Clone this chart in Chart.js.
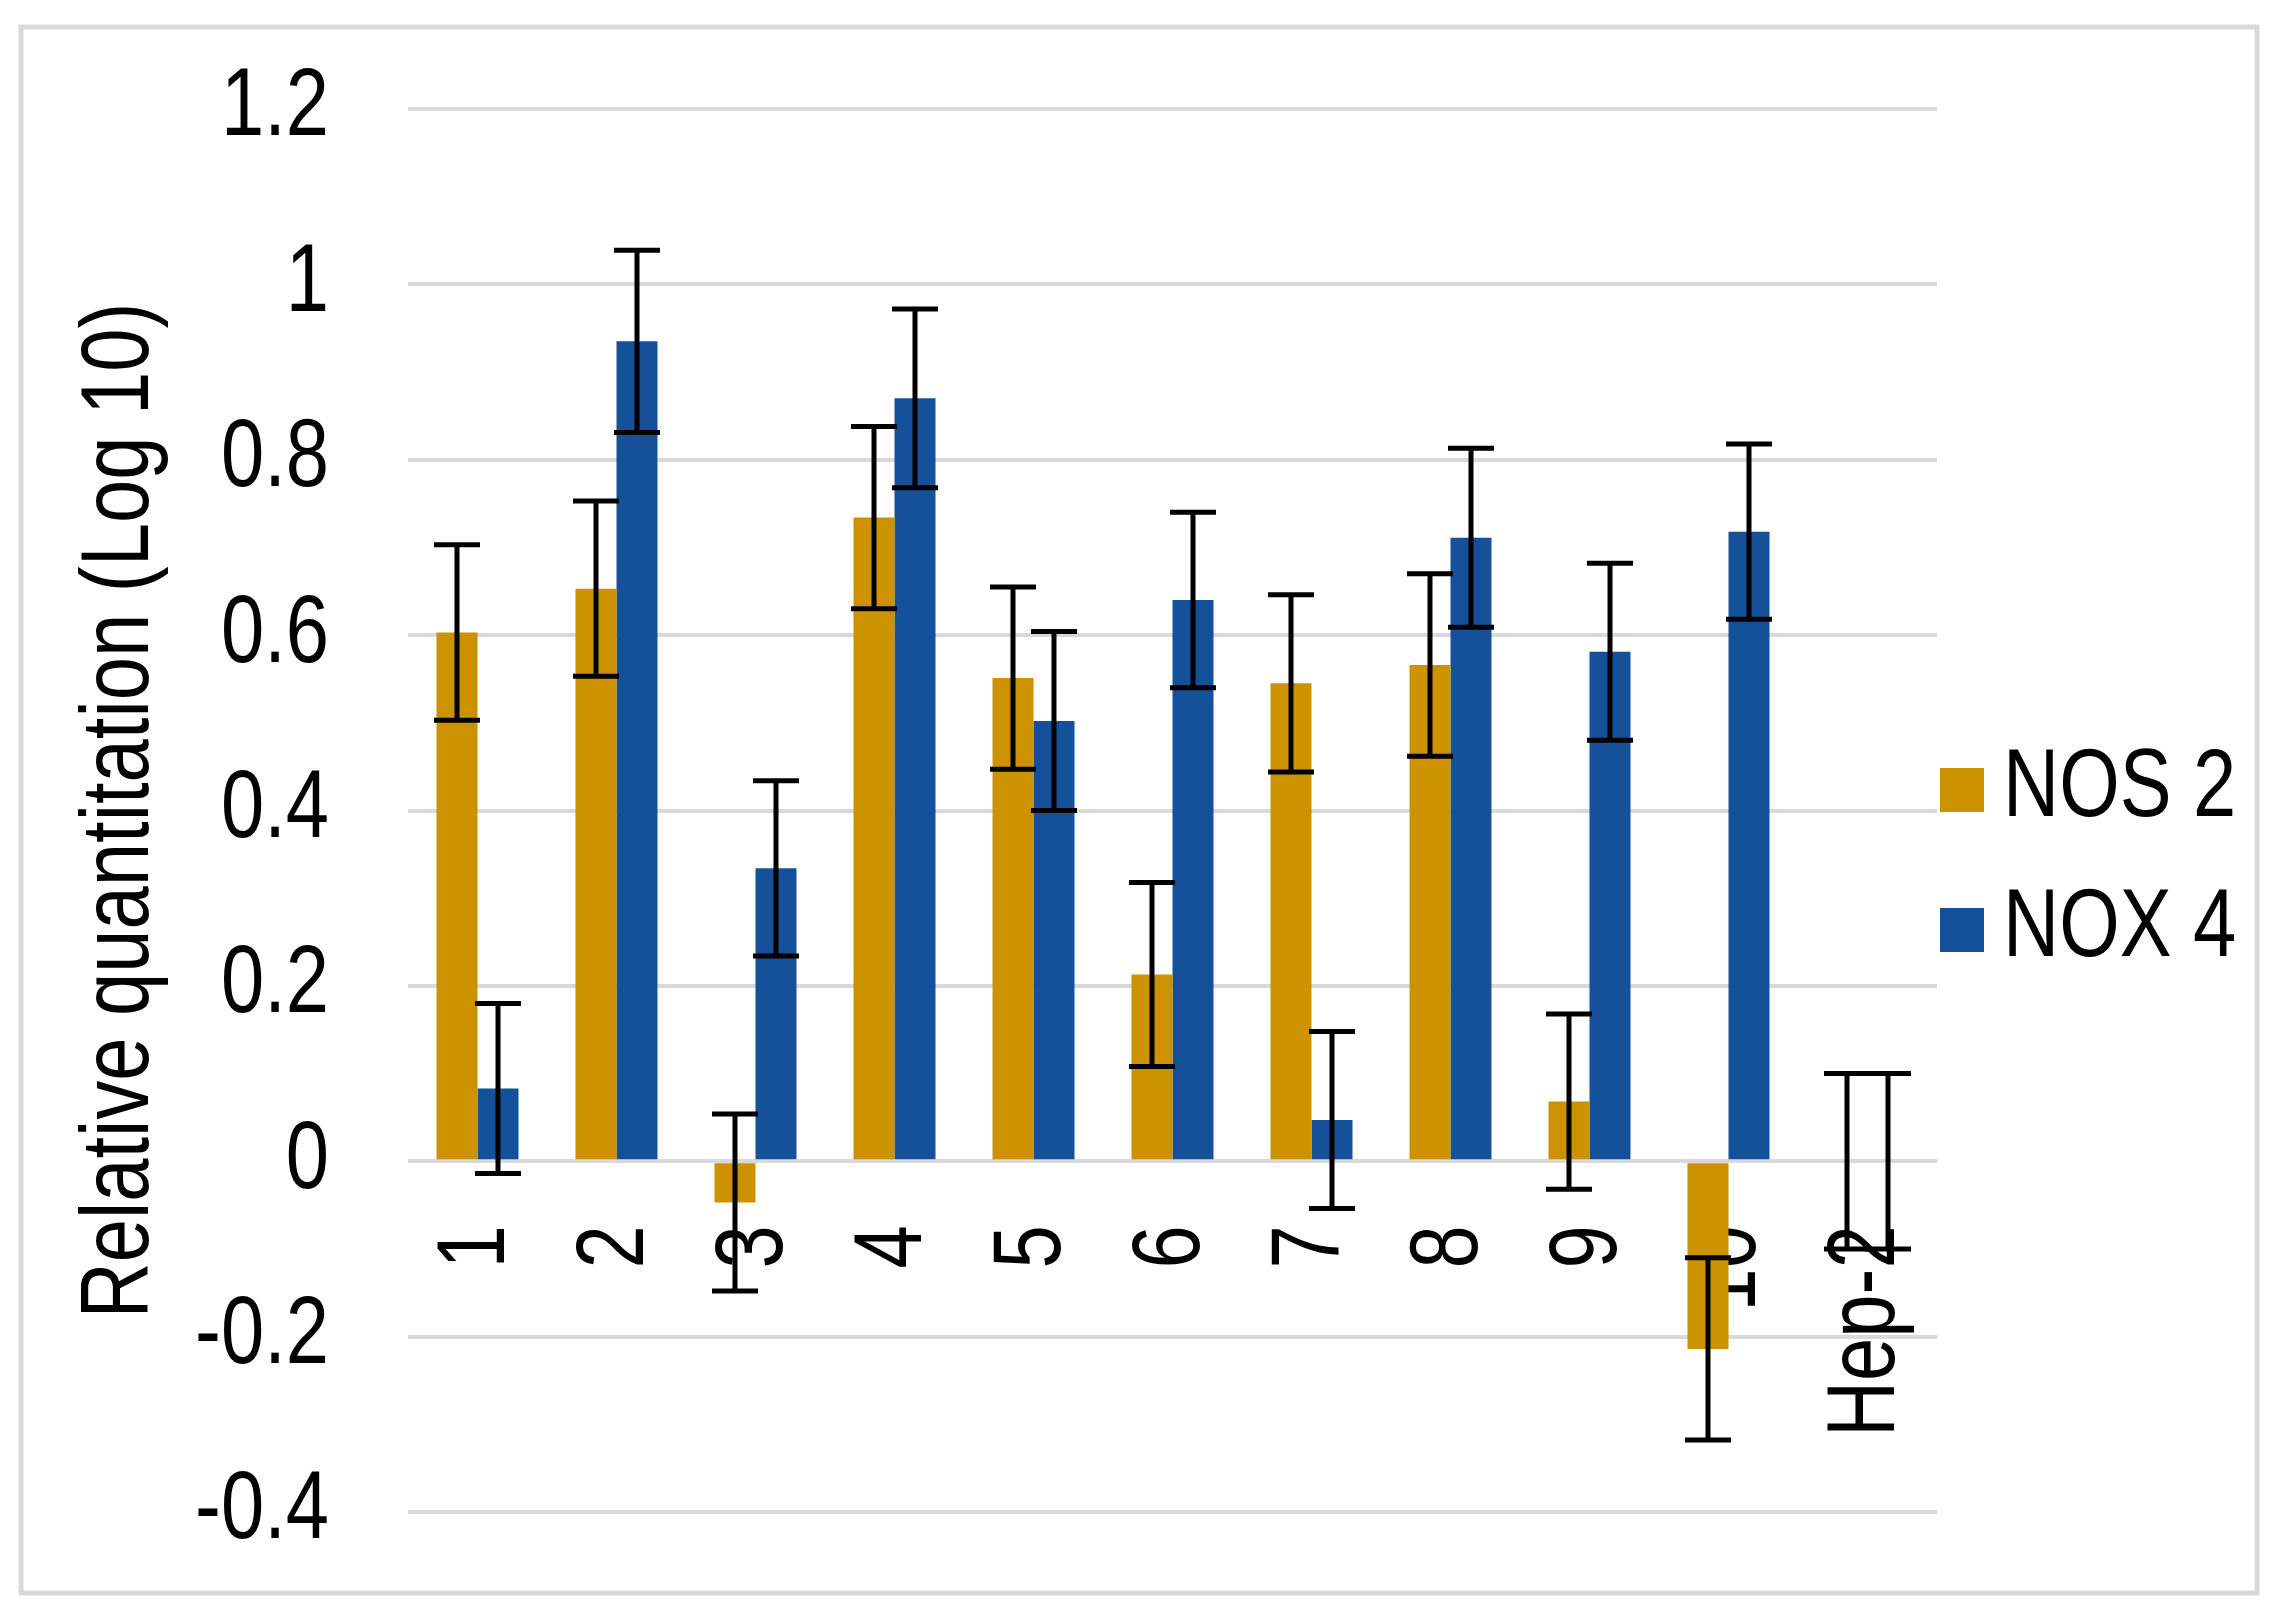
<!DOCTYPE html>
<html><head><meta charset="utf-8">
<script src="https://cdn.jsdelivr.net/npm/chart.js@4.4.1/dist/chart.umd.min.js"></script>
<style>html,body{margin:0;padding:0;background:#fff;}#wrap{width:2284px;height:1615px;position:relative;}</style>
</head><body><div id="wrap"><canvas id="c" width="2284" height="1615"></canvas></div>
<script>
const categories = ['1', '2', '3', '4', '5', '6', '7', '8', '9', '10', 'Hep-2'];
const seriesNames = ['NOS 2', 'NOX 4'];
const nos2Values = [0.603, 0.653, -0.047, 0.734, 0.551, 0.213, 0.545, 0.566, 0.068, -0.214, 0];
const nos2Errors = [0.100, 0.100, 0.101, 0.104, 0.104, 0.105, 0.101, 0.104, 0.100, 0.104, 0.100];
const nox4Values = [0.083, 0.935, 0.334, 0.870, 0.502, 0.640, 0.047, 0.711, 0.581, 0.718, 0];
const nox4Errors = [0.097, 0.104, 0.100, 0.102, 0.102, 0.100, 0.101, 0.102, 0.101, 0.100, 0.100];
const yTitle = 'Relative quantitation (Log 10)';
const yMin = -0.4, yMax = 1.2, yStep = 0.2;

const FONT = "'Liberation Sans Narrow', 'Arial Narrow', 'Liberation Sans', Arial, sans-serif";
const GOLD = '#CC9200';
const BLUE = '#15509A';
const NARROW = 0.81; // horizontal squeeze of glyphs, emulating a narrow sans face

const canvas = document.getElementById('c');
const ctx2d = canvas.getContext('2d');
// Narrow-text emulation: text stays real fillText text, drawn condensed along its own baseline.
const origFill = ctx2d.fillText.bind(ctx2d);
const origMeasure = ctx2d.measureText.bind(ctx2d);
ctx2d.fillText = function (t, x, y, maxW) {
  this.save();
  this.translate(x, y);
  this.scale(NARROW, 1);
  if (maxW === undefined || maxW === null) origFill(t, 0, 0);
  else origFill(t, 0, 0, maxW / NARROW);
  this.restore();
};
ctx2d.measureText = function (t) {
  const m = origMeasure(t);
  return { width: m.width * NARROW, actualBoundingBoxAscent: m.actualBoundingBoxAscent, actualBoundingBoxDescent: m.actualBoundingBoxDescent };
};

const framePlugin = {
  id: 'frame',
  beforeDraw(chart) {
    const ctx = chart.ctx;
    ctx.save();
    ctx.fillStyle = '#fff';
    ctx.fillRect(0, 0, chart.width, chart.height);
    ctx.strokeStyle = '#D9D9D9';
    ctx.lineWidth = 5;
    ctx.strokeRect(21, 27, 2236, 1566);
    ctx.restore();
  }
};

const errorBarPlugin = {
  id: 'errorBars',
  afterDraw(chart) {
    const ctx = chart.ctx;
    const yScale = chart.scales.y;
    ctx.save();
    ctx.strokeStyle = '#000';
    ctx.lineWidth = 5;
    chart.data.datasets.forEach((ds, i) => {
      const meta = chart.getDatasetMeta(i);
      meta.data.forEach((bar, j) => {
        const v = ds.data[j], e = ds.errors[j];
        const x = bar.x;
        const yTop = yScale.getPixelForValue(v + e);
        const yBot = yScale.getPixelForValue(v - e);
        const half = 23;
        ctx.beginPath();
        ctx.moveTo(x, yTop); ctx.lineTo(x, yBot);
        ctx.moveTo(x - half, yTop); ctx.lineTo(x + half, yTop);
        ctx.moveTo(x - half, yBot); ctx.lineTo(x + half, yBot);
        ctx.stroke();
      });
    });
    ctx.restore();
  }
};

const legendPlugin = {
  id: 'sideLegend',
  afterDraw(chart) {
    const ctx = chart.ctx;
    const area = chart.chartArea;
    ctx.save();
    ctx.font = '96px ' + FONT;
    ctx.textBaseline = 'middle';
    ctx.textAlign = 'left';
    chart.data.datasets.forEach((ds, i) => {
      const cy = area.top + 681 + i * 140;
      const bx = area.right + 3;
      ctx.fillStyle = ds.backgroundColor;
      ctx.fillRect(bx, cy - 22, 44, 44);
      ctx.fillStyle = '#000';
      ctx.fillText(ds.label, bx + 63, cy);
    });
    ctx.restore();
  }
};

new Chart(canvas, {
  type: 'bar',
  data: {
    labels: categories,
    datasets: [
      { label: seriesNames[0], data: nos2Values, errors: nos2Errors, backgroundColor: GOLD, borderWidth: 0 },
      { label: seriesNames[1], data: nox4Values, errors: nox4Errors, backgroundColor: BLUE, borderWidth: 0 }
    ]
  },
  options: {
    responsive: false,
    animation: false,
    devicePixelRatio: 1,
    layout: { padding: { left: 30, top: 109, right: 347, bottom: 103 } },
    datasets: { bar: { categoryPercentage: 0.59, barPercentage: 1.0 } },
    plugins: { legend: { display: false }, tooltip: { enabled: false } },
    scales: {
      x: {
        position: { y: 0 },
        z: 1,
        grid: { display: false },
        border: { display: false },
        ticks: {
          autoSkip: false, minRotation: 90, maxRotation: 90, padding: 56,
          color: '#000', font: { family: FONT, size: 96 }
        }
      },
      y: {
        min: yMin, max: yMax,
        grid: { color: '#D9D9D9', lineWidth: 4, drawTicks: true, tickLength: 79, tickColor: 'rgba(0,0,0,0)' },
        border: { display: false },
        ticks: {
          stepSize: yStep, padding: 0, color: '#000', font: { family: FONT, size: 96 },
          callback: v => String(Number(Number(v).toFixed(1)))
        },
        title: {
          display: true, text: yTitle, color: '#000',
          font: { family: FONT, size: 96 }, padding: { top: 34, bottom: 0 }
        },
        afterFit: s => { s.width = 378; }
      }
    }
  },
  plugins: [framePlugin, errorBarPlugin, legendPlugin]
});
</script>
</body></html>
